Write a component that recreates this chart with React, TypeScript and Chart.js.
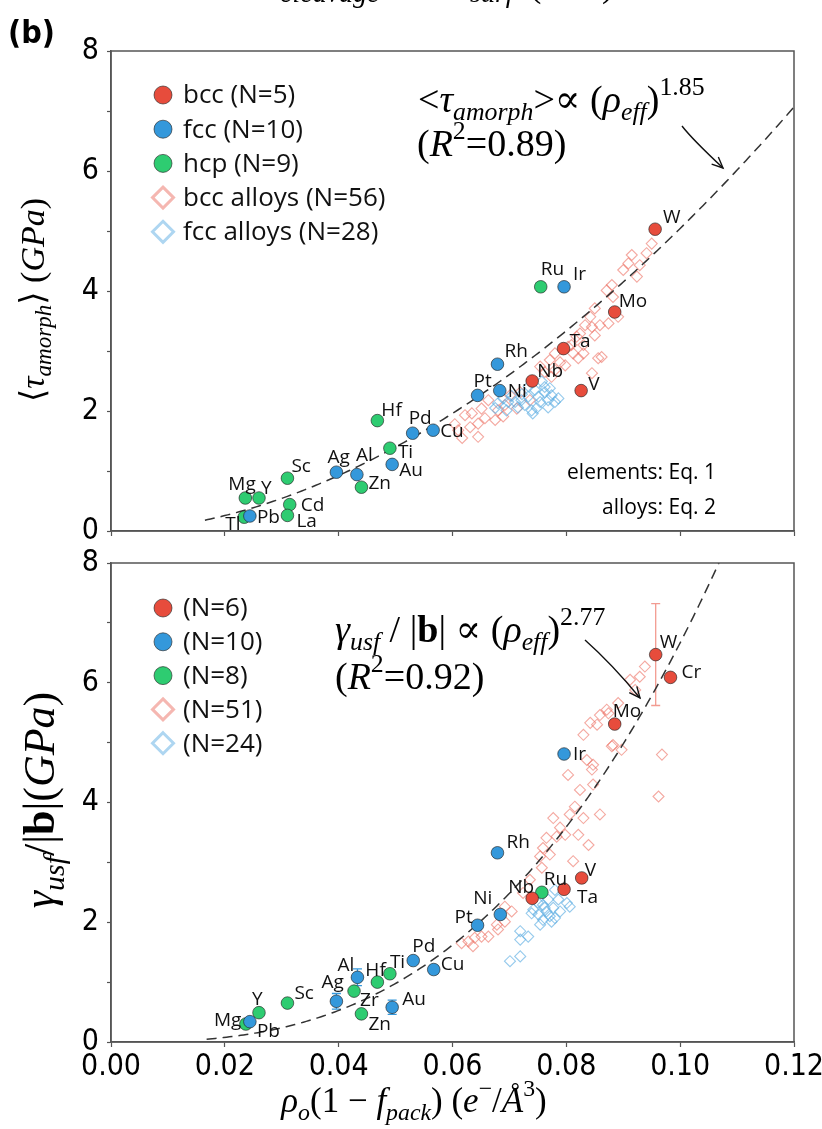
import React, { useEffect, useRef } from 'react';
import { Chart, registerables } from 'chart.js';

Chart.register(...registerables);

// ================= TOP PANEL DATA  <tau_amorph> (GPa) =================
const topBccNames = ['W', 'Mo', 'Ta', 'Nb', 'V'];
const topBccX = [0.0956, 0.0885, 0.0795, 0.074, 0.0826];
const topBccY = [5.03, 3.65, 3.04, 2.5, 2.34];

const topFccNames = ['Ir', 'Rh', 'Pt', 'Ni', 'Pd', 'Cu', 'Ag', 'Al', 'Au', 'Pb'];
const topFccX = [0.0796, 0.0679, 0.0644, 0.0683, 0.053, 0.0566, 0.0396, 0.0432, 0.0494, 0.0244];
const topFccY = [4.07, 2.78, 2.26, 2.34, 1.63, 1.68, 0.98, 0.94, 1.11, 0.25];

const topHcpNames = ['Ru', 'Hf', 'Ti', 'Zn', 'Sc', 'Mg', 'Y', 'Cd', 'La', 'Tl'];
const topHcpX = [0.0755, 0.0468, 0.049, 0.044, 0.031, 0.0236, 0.026, 0.0314, 0.031, 0.0234];
const topHcpY = [4.07, 1.84, 1.38, 0.73, 0.88, 0.55, 0.55, 0.44, 0.26, 0.23];

const topBccAlloyX = [
  0.095, 0.0941, 0.0909, 0.09, 0.0924, 0.088, 0.0871, 0.0882, 0.085, 0.0842,
  0.0891, 0.0874, 0.0859, 0.0845, 0.0824, 0.0818, 0.0809, 0.085, 0.0862, 0.0812,
  0.078, 0.083, 0.083, 0.0821, 0.0856, 0.0845, 0.0798, 0.078, 0.0774, 0.0803,
  0.0754, 0.0771, 0.0762, 0.0713, 0.0736, 0.0692, 0.0663, 0.0651, 0.0634, 0.0622,
  0.0657, 0.0675, 0.0645, 0.0631, 0.061, 0.0645, 0.0617, 0.0604, 0.068, 0.0719,
  0.0701, 0.0915, 0.0929, 0.0833, 0.0789, 0.0689,
];
const topBccAlloyY = [
  4.79, 4.63, 4.46, 4.35, 4.24, 4.1, 4.01, 3.9, 3.71, 3.57,
  3.57, 3.46, 3.43, 3.4, 3.29, 3.24, 3.1, 3.26, 2.9, 2.96,
  2.96, 2.96, 3.1, 2.88, 2.88, 2.63, 2.76, 2.68, 2.57, 3.07,
  2.74, 2.85, 2.65, 2.04, 2.18, 2.1, 2.18, 2.04, 1.96, 1.93,
  1.88, 1.85, 1.79, 1.73, 1.68, 1.57, 1.55, 1.78, 2.01, 2.31,
  2.26, 4.6, 4.43, 3.43, 2.81, 1.91,
];

const topFccAlloyX = [
  0.0757, 0.0762, 0.0745, 0.0774, 0.0786, 0.0768, 0.0751, 0.0733, 0.0721, 0.071,
  0.0698, 0.068, 0.0695, 0.0739, 0.0741, 0.0727, 0.078, 0.0715, 0.0762, 0.0754,
  0.0704, 0.0689, 0.0734, 0.0771, 0.0675, 0.0748, 0.0722, 0.0768,
];
const topFccAlloyY = [
  2.49, 2.4, 2.35, 2.26, 2.21, 2.18, 2.24, 2.24, 2.18, 2.15,
  2.15, 2.13, 2.01, 2.01, 1.96, 2.1, 2.15, 2.06, 2.31, 2.15,
  2.25, 2.21, 2.41, 2.38, 2.05, 2.05, 2.28, 2.06,
];

const topLegend = ['bcc (N=5)', 'fcc (N=10)', 'hcp (N=9)', 'bcc alloys (N=56)', 'fcc alloys (N=28)'];
const topFitCoef = 357;
const topFitExp = 1.85;
const topFitStart = 0.0165;
const topFitR2 = '0.89';

// ================= BOTTOM PANEL DATA  gamma_usf/|b| (GPa) =================
const botBccNames = ['W', 'Cr', 'Mo', 'V', 'Ta', 'Nb'];
const botBccX = [0.0957, 0.0983, 0.0885, 0.0827, 0.0796, 0.074];
const botBccY = [6.47, 6.09, 5.31, 2.74, 2.55, 2.4];
const botBccErr = [0.85, 0, 0, 0, 0, 0];

const botFccNames = ['Ir', 'Rh', 'Ni', 'Pt', 'Cu', 'Pd', 'Al', 'Ag', 'Au', 'Pb'];
const botFccX = [0.0796, 0.0679, 0.0684, 0.0644, 0.0567, 0.0531, 0.0433, 0.0396, 0.0494, 0.0244];
const botFccY = [4.81, 3.16, 2.13, 1.95, 1.21, 1.36, 1.08, 0.68, 0.58, 0.34];
const botFccErr = [0, 0, 0.07, 0.04, 0.07, 0, 0.14, 0.13, 0.12, 0];

const botHcpNames = ['Ru', 'Ti', 'Hf', 'Zr', 'Zn', 'Sc', 'Y', 'Mg'];
const botHcpX = [0.0757, 0.049, 0.0468, 0.0427, 0.044, 0.031, 0.026, 0.0237];
const botHcpY = [2.5, 1.14, 1.0, 0.85, 0.47, 0.65, 0.49, 0.3];

const botBccAlloyX = [
  0.0938, 0.0929, 0.0912, 0.0871, 0.0859, 0.0842, 0.083, 0.088, 0.0897, 0.0968,
  0.0847, 0.0845, 0.0803, 0.0847, 0.0962, 0.0815, 0.0806, 0.083, 0.0859, 0.0798,
  0.0821, 0.0839, 0.0812, 0.0777, 0.0765, 0.0783, 0.0754, 0.0771, 0.0757, 0.0724,
  0.0692, 0.0678, 0.068, 0.0692, 0.0663, 0.0651, 0.0639, 0.0628, 0.0616, 0.0636,
  0.0891, 0.0874, 0.0882, 0.0836, 0.0759, 0.0736, 0.0704, 0.0789, 0.0921, 0.0854,
  0.0824,
];
const botBccAlloyY = [
  6.27, 6.1, 6.05, 5.55, 5.46, 5.33, 5.13, 4.94, 4.88, 4.8,
  4.63, 4.55, 4.46, 4.3, 4.1, 3.93, 3.8, 3.74, 3.8, 3.46,
  3.46, 3.29, 3.02, 3.74, 3.41, 3.43, 3.1, 3.13, 2.91, 2.49,
  2.26, 1.96, 1.88, 2.01, 1.76, 1.76, 1.74, 1.68, 1.65, 1.6,
  5.66, 5.49, 4.96, 4.71, 3.24, 2.71, 2.18, 3.58, 5.88, 5.3,
  4.21,
];

const botFccAlloyX = [
  0.078, 0.0768, 0.0786, 0.0801, 0.0806, 0.0759, 0.0777, 0.0739, 0.0751, 0.0765,
  0.0771, 0.078, 0.0759, 0.0754, 0.0774, 0.0762, 0.0719, 0.0733, 0.0719, 0.0719,
  0.0701, 0.0742, 0.0789, 0.075,
];
const botFccAlloyY = [
  2.54, 2.38, 2.38, 2.32, 2.26, 2.29, 2.24, 2.15, 2.13, 2.18,
  2.1, 2.07, 2.04, 1.96, 2.01, 2.24, 1.85, 1.76, 1.71, 1.43,
  1.35, 2.21, 2.18, 2.33,
];

const botLegend = ['(N=6)', '(N=10)', '(N=8)', '(N=51)', '(N=24)'];
const botFitCoef = 3926;
const botFitExp = 2.77;
const botFitStart = 0.0168;
const botFitR2 = '0.92';

const xTickValues = [0, 0.02, 0.04, 0.06, 0.08, 0.1, 0.12];
const yTickValues = [0, 2, 4, 6, 8];

// ================= STYLE / LAYOUT =================
const W = 822;
const TOP_H = 560;
const BOT_OFF = 530;
const BOT_H = 1129 - BOT_OFF;
const PLOT_L = 111;
const PLOT_R = 794;
const TOP_T = 51;
const TOP_B = 531;
const BOT_T = 563 - BOT_OFF;
const BOT_B = 1042 - BOT_OFF;

const RED = '#e74c3c';
const BLUE = '#3498db';
const GREEN = '#2ecc71';
const PINK_D = 'rgba(236,112,99,0.6)';
const BLUE_D = 'rgba(93,173,226,0.65)';
const PINK_L = '#f5b7b1';
const BLUE_L = '#aed6f1';
const AXIS = '#555';

const SANS = '"Open Sans", "Noto Sans", "DejaVu Sans", sans-serif';
const NARROW = '"Liberation Sans Narrow", "DejaVu Sans Condensed", "Liberation Sans", sans-serif';
const SERIF = '"Liberation Serif", "DejaVu Serif", serif';

const topLabelOffsets: Record<string, [number, number]> = {
  W: [8, -6], Mo: [4, -5], Ta: [6, -2], Nb: [5, -4], V: [7, -1],
  Ir: [9, -7], Rh: [7, -7], Pt: [-4, -8], Ni: [8, 6], Pd: [-4, -9], Cu: [7, 7],
  Ag: [-9, -9], Al: [-1, -14], Au: [7, 12], Pb: [7, 7],
  Ru: [0, -12], Hf: [4, -5], Ti: [8, 10], Zn: [7, 2], Sc: [4, -6], Mg: [-17, -8],
  Y: [2, -4], Cd: [11, 6], La: [9, 12], Tl: [-19, 13],
};
const botLabelOffsets: Record<string, [number, number]> = {
  W: [4, -7], Cr: [11, 1], Mo: [-2, -7], V: [3, -2], Ta: [13, 14], Nb: [-24, -5],
  Ir: [9, 6], Rh: [9, -5], Ni: [-27, -10], Pt: [-23, -2], Cu: [7, 0], Pd: [-1, -9],
  Al: [-20, -6], Ag: [-15, -13], Au: [10, -2], Pb: [7, 15],
  Ru: [2, -7], Ti: [0, -6], Hf: [-12, -6], Zr: [6, 15], Zn: [7, 16], Sc: [7, -4],
  Y: [-7, -8], Mg: [-32, 2],
};

// ================= HELPERS =================
type Seg = [string, string?];

function segFont(flags: string, size: number) {
  const small = flags.includes('_') || flags.includes('^');
  const sz = small ? size * 0.68 : size;
  return `${flags.includes('i') ? 'italic ' : ''}${flags.includes('b') ? 'bold ' : ''}${sz}px ${SERIF}`;
}
function richWidth(ctx: CanvasRenderingContext2D, segs: Seg[], size: number) {
  let w = 0;
  for (const [t, f = ''] of segs) {
    ctx.font = segFont(f, size);
    w += ctx.measureText(t).width;
  }
  return w;
}
function drawRich(ctx: CanvasRenderingContext2D, segs: Seg[], x: number, y: number, size: number) {
  let cx = x;
  ctx.textBaseline = 'alphabetic';
  ctx.textAlign = 'left';
  for (const [t, f = ''] of segs) {
    ctx.font = segFont(f, size);
    const dy = f.includes('_') ? size * 0.22 : f.includes('^') ? -size * 0.45 : 0;
    ctx.fillText(t, cx, y + dy);
    cx += ctx.measureText(t).width;
  }
  return cx - x;
}
function drawRotated(ctx: CanvasRenderingContext2D, segs: Seg[], bx: number, cy: number, size: number) {
  ctx.save();
  ctx.translate(bx, cy);
  ctx.rotate(-Math.PI / 2);
  const w = richWidth(ctx, segs, size);
  drawRich(ctx, segs, -w / 2, 0, size);
  ctx.restore();
}
function drawArrow(ctx: CanvasRenderingContext2D, x0: number, y0: number, cx: number, cy: number, x1: number, y1: number) {
  ctx.save();
  ctx.strokeStyle = '#111';
  ctx.lineWidth = 1.4;
  ctx.beginPath();
  ctx.moveTo(x0, y0);
  ctx.quadraticCurveTo(cx, cy, x1, y1);
  ctx.stroke();
  const ang = Math.atan2(y1 - cy, x1 - cx);
  const L = 12;
  const a = 0.42;
  ctx.beginPath();
  ctx.moveTo(x1 - L * Math.cos(ang - a), y1 - L * Math.sin(ang - a));
  ctx.lineTo(x1, y1);
  ctx.lineTo(x1 - L * Math.cos(ang + a), y1 - L * Math.sin(ang + a));
  ctx.stroke();
  ctx.restore();
}
function legendMarker(ctx: CanvasRenderingContext2D, kind: string, x: number, y: number) {
  ctx.save();
  if (kind.startsWith('c')) {
    const col = kind === 'cR' ? RED : kind === 'cB' ? BLUE : GREEN;
    ctx.beginPath();
    ctx.arc(x, y, 9, 0, Math.PI * 2);
    ctx.fillStyle = col;
    ctx.fill();
    ctx.strokeStyle = 'rgba(40,40,40,0.8)';
    ctx.lineWidth = 0.8;
    ctx.stroke();
  } else {
    ctx.strokeStyle = kind === 'dR' ? PINK_L : BLUE_L;
    ctx.lineWidth = 3;
    const r = 10.5;
    ctx.beginPath();
    ctx.moveTo(x, y - r);
    ctx.lineTo(x + r, y);
    ctx.lineTo(x, y + r);
    ctx.lineTo(x - r, y);
    ctx.closePath();
    ctx.stroke();
  }
  ctx.restore();
}
const legendKinds = ['cR', 'cB', 'cG', 'dR', 'dB'];

function pts(xs: number[], ys: number[]) {
  return xs.map((x, i) => ({ x, y: ys[i] }));
}
function fitCurve(coef: number, exp: number, start: number) {
  const out: { x: number; y: number }[] = [];
  for (let x = start; x <= 0.1205; x += 0.0005) out.push({ x, y: coef * Math.pow(x, exp) });
  return out;
}

type Group = { names: string[]; xs: number[]; ys: number[] };

function drawLabels(chart: any, groups: Group[], offsets: Record<string, [number, number]>) {
  const ctx: CanvasRenderingContext2D = chart.ctx;
  const xs = chart.scales.x;
  const ys = chart.scales.y;
  ctx.save();
  ctx.fillStyle = '#111';
  ctx.font = `19px ${SANS}`;
  ctx.textAlign = 'left';
  ctx.textBaseline = 'alphabetic';
  for (const g of groups) {
    g.names.forEach((n, i) => {
      const px = xs.getPixelForValue(g.xs[i]);
      const py = ys.getPixelForValue(g.ys[i]);
      const [dx, dy] = offsets[n] || [6, -6];
      ctx.fillText(n, px + dx, py + dy);
    });
  }
  ctx.restore();
}
function drawFrame(chart: any) {
  const ctx: CanvasRenderingContext2D = chart.ctx;
  const a = chart.chartArea;
  ctx.save();
  ctx.strokeStyle = AXIS;
  ctx.lineWidth = 1.5;
  ctx.strokeRect(a.left, a.top, a.right - a.left, a.bottom - a.top);
  ctx.restore();
}
function drawLegend(ctx: CanvasRenderingContext2D, labels: string[], y0: number, dy: number) {
  ctx.save();
  labels.forEach((lab, i) => {
    const y = y0 + i * dy;
    legendMarker(ctx, legendKinds[i], 163, y);
    ctx.fillStyle = '#111';
    ctx.font = `26px ${SANS}`;
    ctx.textBaseline = 'middle';
    ctx.textAlign = 'left';
    ctx.fillText(lab, 183, y + 1);
  });
  ctx.restore();
}

function scalesFor(showXLabels: boolean, plotBottom: number, canvasH: number) {
  const tickFont = { family: NARROW, size: 30 };
  return {
    x: {
      type: 'linear',
      min: 0,
      max: 0.12,
      afterBuildTicks: (s: any) => {
        s.ticks = xTickValues.map((v) => ({ value: v }));
      },
      afterFit: (s: any) => {
        s.height = canvasH - plotBottom;
        s.paddingLeft = 0;
        s.paddingRight = 0;
      },
      ticks: {
        callback: (v: any) => (showXLabels ? Number(v).toFixed(2) : ''),
        font: tickFont,
        color: '#000',
        padding: 2,
        maxRotation: 0,
        autoSkip: false,
      },
      grid: { drawOnChartArea: false, drawTicks: true, tickLength: 5, tickColor: AXIS, tickWidth: 1.2 },
      border: { color: AXIS, width: 1.5 },
    },
    y: {
      type: 'linear',
      min: 0,
      max: 8,
      afterBuildTicks: (s: any) => {
        const t: { value: number }[] = [];
        for (let v = 0; v <= 8; v++) t.push({ value: v });
        s.ticks = t;
      },
      afterFit: (s: any) => {
        s.width = PLOT_L;
        s.paddingTop = 0;
        s.paddingBottom = 0;
      },
      ticks: {
        callback: (v: any) => (yTickValues.includes(Number(v)) ? String(v) : ''),
        font: tickFont,
        color: '#000',
        padding: 8,
        autoSkip: false,
      },
      grid: { drawOnChartArea: false, drawTicks: true, tickLength: 4, tickColor: AXIS, tickWidth: 1.2 },
      border: { color: AXIS, width: 1.5 },
    },
  };
}

function datasets(
  bcc: Group, fcc: Group, hcp: Group,
  bccA: [number[], number[]], fccA: [number[], number[]],
  fit: { x: number; y: number }[],
) {
  const elem = (g: Group, c: string) => ({
    data: pts(g.xs, g.ys),
    backgroundColor: c,
    borderColor: 'rgba(35,35,35,0.8)',
    borderWidth: 0.8,
    pointRadius: 6.3,
    pointStyle: 'circle',
  });
  const dia = (d: [number[], number[]], c: string) => ({
    data: pts(d[0], d[1]),
    backgroundColor: 'rgba(0,0,0,0)',
    borderColor: c,
    borderWidth: 1.1,
    pointRadius: 5.5,
    pointStyle: 'rectRot',
  });
  return [
    elem(bcc, RED),
    elem(fcc, BLUE),
    elem(hcp, GREEN),
    {
      data: fit,
      showLine: true,
      borderColor: '#333',
      borderWidth: 1.5,
      borderDash: [10, 6],
      pointRadius: 0,
      fill: false,
    },
    dia(fccA, BLUE_D),
    dia(bccA, PINK_D),
  ];
}

function topConfig(): any {
  const bcc = { names: topBccNames, xs: topBccX, ys: topBccY };
  const fcc = { names: topFccNames, xs: topFccX, ys: topFccY };
  const hcp = { names: topHcpNames, xs: topHcpX, ys: topHcpY };
  const plugin = {
    id: 'topDecor',
    afterDatasetsDraw(chart: any) {
      drawLabels(chart, [bcc, fcc, hcp], topLabelOffsets);
    },
    afterDraw(chart: any) {
      const ctx: CanvasRenderingContext2D = chart.ctx;
      drawFrame(chart);
      drawLegend(ctx, topLegend, 95, 34.2);
      ctx.save();
      ctx.fillStyle = '#000';
      // clipped header line from the panel above
      drawRich(ctx, [['cleavage', 'i']], 280, 2, 28);
      drawRich(ctx, [['surf', 'i']], 470, 2, 28);
      drawRich(ctx, [['(J/m', ''], ['2', '^'], [')', '']], 530, -3, 34);
      // panel letter
      ctx.font = `bold 32px ${NARROW}`;
      ctx.textAlign = 'left';
      ctx.textBaseline = 'alphabetic';
      ctx.fillText('(b)', 8, 43);
      // fit annotation
      drawRich(ctx, [['<', ''], ['τ', 'i'], ['amorph', 'i_'], ['>', ''], ['∝ (', ''], ['ρ', 'i'], ['eff', 'i_'], [')', ''], [String(topFitExp), '^']], 418, 112, 38);
      drawRich(ctx, [['(', ''], ['R', 'i'], ['2', '^'], ['=', ''], [topFitR2 + ')', '']], 417, 156, 38);
      // note
      ctx.font = `21px ${SANS}`;
      ctx.textAlign = 'right';
      ctx.fillText('elements: Eq. 1', 716, 479);
      ctx.fillText('alloys: Eq. 2', 716, 514);
      // y title
      drawRotated(ctx, [['⟨', ''], ['τ', 'i'], ['amorph', 'i_'], ['⟩ (', ''], ['GPa', 'i'], [')', '']], 44, 300, 34);
      ctx.restore();
      drawArrow(ctx, 682, 126, 692, 139, 723, 168);
    },
  };
  return {
    type: 'scatter',
    data: { datasets: datasets(bcc, fcc, hcp, [topBccAlloyX, topBccAlloyY], [topFccAlloyX, topFccAlloyY], fitCurve(topFitCoef, topFitExp, topFitStart)) },
    options: {
      responsive: false,
      animation: false,
      events: [],
      layout: { padding: { left: 0, right: W - PLOT_R, top: TOP_T, bottom: 0 } },
      plugins: { legend: { display: false }, tooltip: { enabled: false } },
      scales: scalesFor(false, TOP_B, TOP_H),
    },
    plugins: [plugin],
  };
}

function botConfig(): any {
  const bcc = { names: botBccNames, xs: botBccX, ys: botBccY };
  const fcc = { names: botFccNames, xs: botFccX, ys: botFccY };
  const hcp = { names: botHcpNames, xs: botHcpX, ys: botHcpY };
  const plugin = {
    id: 'botDecor',
    beforeDatasetsDraw(chart: any) {
      const ctx: CanvasRenderingContext2D = chart.ctx;
      const xs = chart.scales.x;
      const ys = chart.scales.y;
      ctx.save();
      const bars = (g: Group, errs: number[], col: string) => {
        ctx.strokeStyle = col;
        ctx.lineWidth = 1.3;
        errs.forEach((e, i) => {
          if (!e) return;
          const px = xs.getPixelForValue(g.xs[i]);
          const p1 = ys.getPixelForValue(g.ys[i] + e);
          const p2 = ys.getPixelForValue(g.ys[i] - e);
          ctx.beginPath();
          ctx.moveTo(px, p1);
          ctx.lineTo(px, p2);
          ctx.moveTo(px - 4.5, p1);
          ctx.lineTo(px + 4.5, p1);
          ctx.moveTo(px - 4.5, p2);
          ctx.lineTo(px + 4.5, p2);
          ctx.stroke();
        });
      };
      bars(bcc, botBccErr, 'rgba(236,112,99,0.7)');
      bars(fcc, botFccErr, BLUE);
      ctx.restore();
    },
    afterDatasetsDraw(chart: any) {
      drawLabels(chart, [bcc, fcc, hcp], botLabelOffsets);
    },
    afterDraw(chart: any) {
      const ctx: CanvasRenderingContext2D = chart.ctx;
      drawFrame(chart);
      ctx.save();
      ctx.translate(0, -BOT_OFF);
      drawLegend(ctx, botLegend, 608, 33.8);
      ctx.fillStyle = '#000';
      drawRich(ctx, [['γ', 'i'], ['usf', 'i_'], [' / |', ''], ['b', 'b'], ['| ∝ (', ''], ['ρ', 'i'], ['eff', 'i_'], [')', ''], [String(botFitExp), '^']], 335, 642, 38);
      drawRich(ctx, [['(', ''], ['R', 'i'], ['2', '^'], ['=', ''], [botFitR2 + ')', '']], 335, 689, 38);
      drawRotated(ctx, [['γ', 'i'], ['usf', 'i_'], ['/|', ''], ['b', 'b'], ['|(', ''], ['GPa', 'i'], [')', '']], 54, 800, 44);
      const xt: Seg[] = [['ρ', 'i'], ['o', 'i_'], ['(1 − ', ''], ['f', 'i'], ['pack', 'i_'], [') (', ''], ['e', 'i'], ['−', '^'], ['/', ''], ['Å', 'i'], ['3', '^'], [')', '']];
      const w = richWidth(ctx, xt, 35);
      drawRich(ctx, xt, 414 - w / 2, 1112, 35);
      ctx.restore();
      ctx.save();
      ctx.translate(0, -BOT_OFF);
      drawArrow(ctx, 585, 640, 612, 664, 640, 698);
      ctx.restore();
    },
  };
  return {
    type: 'scatter',
    data: { datasets: datasets(bcc, fcc, hcp, [botBccAlloyX, botBccAlloyY], [botFccAlloyX, botFccAlloyY], fitCurve(botFitCoef, botFitExp, botFitStart)) },
    options: {
      responsive: false,
      animation: false,
      events: [],
      layout: { padding: { left: 0, right: W - PLOT_R, top: BOT_T, bottom: 0 } },
      plugins: { legend: { display: false }, tooltip: { enabled: false } },
      scales: scalesFor(true, BOT_B, BOT_H),
    },
    plugins: [plugin],
  };
}

export default function App() {
  const topRef = useRef<HTMLCanvasElement>(null);
  const botRef = useRef<HTMLCanvasElement>(null);
  useEffect(() => {
    const c1 = new Chart(topRef.current as HTMLCanvasElement, topConfig());
    const c2 = new Chart(botRef.current as HTMLCanvasElement, botConfig());
    return () => {
      c1.destroy();
      c2.destroy();
    };
  }, []);
  return (
    <div style={{ position: 'absolute', left: 0, top: 0, width: W, height: 1129, background: '#fff', overflow: 'hidden' }}>
      <canvas ref={topRef} width={W} height={TOP_H} style={{ position: 'absolute', left: 0, top: 0 }} />
      <canvas ref={botRef} width={W} height={BOT_H} style={{ position: 'absolute', left: 0, top: BOT_OFF }} />
    </div>
  );
}
